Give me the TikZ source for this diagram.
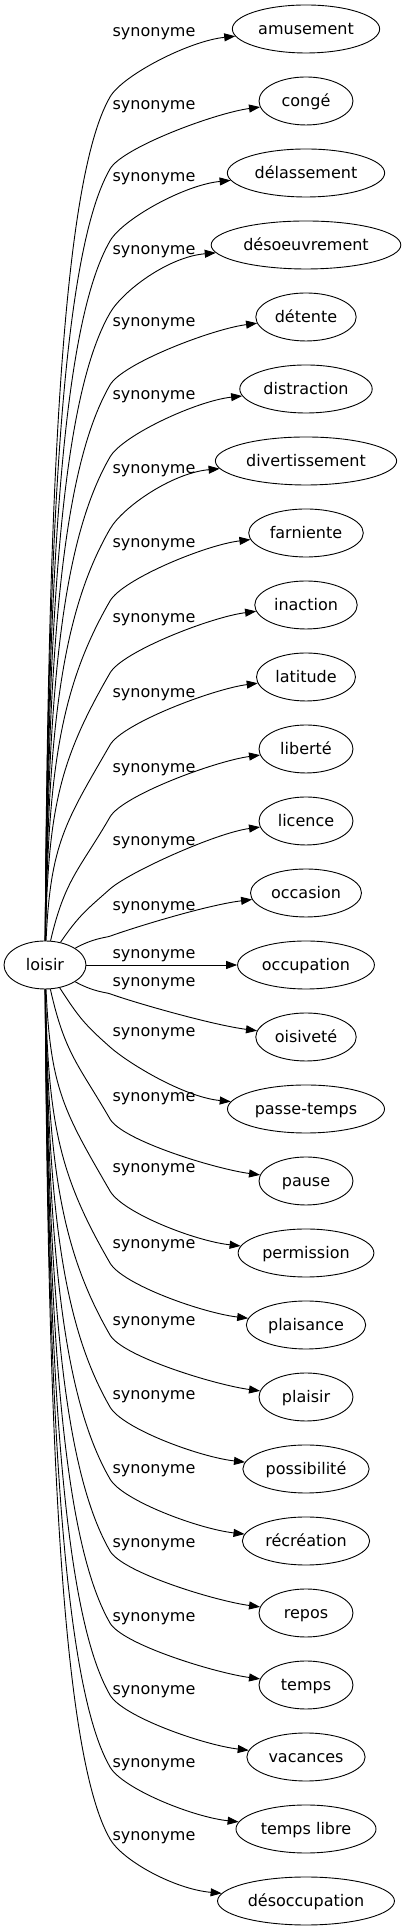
\documentclass[tikz,border=0pt]{standalone}
\usepackage{fontspec}
\setmainfont{DejaVu Sans}
\usepackage{tikz}
\usetikzlibrary{positioning,shapes.geometric,arrows.meta}
\tikzstyle{word} = [ellipse, draw, minimum width=94pt, minimum height=48pt, inner xsep=4.3pt, inner ysep=0pt, text height=12pt, text depth=0pt]
\tikzstyle{syn} = [-{Triangle[length=11pt,width=8pt]}]
\tikzstyle{lbl} = [anchor=base, inner sep=0pt]

\begin{document}
\begin{tikzpicture}[x=1pt, y=1pt, node distance=72pt, line width=0.9pt, font=\fontsize{16}{19}\selectfont]
            \useasboundingbox (0,0) rectangle (405,1931);
            \node (loisir) at (45,966) [word, minimum width=82pt] {loisir};
            \node (amusement) at (306,1902) [word] {amusement};
            \node (conge) [word, below of=amusement] {congé};
            \node (delassement) [word, below of=conge] {délassement};
            \node (desoeuvrement) [word, below of=delassement] {désoeuvrement};
            \node (detente) [word, below of=desoeuvrement] {détente};
            \node (distraction) [word, below of=detente] {distraction};
            \node (divertissement) [word, below of=distraction] {divertissement};
            \node (farniente) [word, below of=divertissement] {farniente};
            \node (inaction) [word, below of=farniente] {inaction};
            \node (latitude) [word, below of=inaction] {latitude};
            \node (liberte) [word, below of=latitude] {liberté};
            \node (licence) [word, below of=liberte] {licence};
            \node (occasion) [word, below of=licence] {occasion};
            \node (occupation) [word, below of=occasion] {occupation};
            \node (oisivete) [word, below of=occupation] {oisiveté};
            \node (passetemps) [word, below of=oisivete] {passe-temps};
            \node (pause) [word, below of=passetemps] {pause};
            \node (permission) [word, below of=pause] {permission};
            \node (plaisance) [word, below of=permission] {plaisance};
            \node (plaisir) [word, below of=plaisance] {plaisir};
            \node (possibilite) [word, below of=plaisir] {possibilité};
            \node (recreation) [word, below of=possibilite] {récréation};
            \node (repos) [word, below of=recreation] {repos};
            \node (temps) [word, below of=repos] {temps};
            \node (vacances) [word, below of=temps] {vacances};
            \node (tempslibre) [word, below of=vacances] {temps libre};
            \node (desoccupation) [word, below of=tempslibre] {désoccupation};
            % the one straight edge
            \draw[syn] (loisir) -- (occupation);
            \node[lbl] at (154,972) {synonyme};
            % curved edges, upper ones rise and lower ones fall from loisir
            \foreach \n/\i/\ly in {amusement/0/32, conge/1/105, delassement/2/177, desoeuvrement/3/250,
                detente/4/322, distraction/5/395, divertissement/6/469, farniente/7/543, inaction/8/618,
                latitude/9/693, liberte/10/768, licence/11/841, occasion/12/906,
                oisivete/14/982, passetemps/15/1032, pause/16/1097, permission/17/1168, plaisance/18/1244,
                plaisir/19/1321, possibilite/20/1395, recreation/21/1469, repos/22/1543, temps/23/1617,
                vacances/24/1690, tempslibre/25/1763, desoccupation/26/1836}{
                \pgfmathsetmacro\yT{1902-72*\i}
                \pgfmathsetmacro\s{\yT>966 ? 1 : -1}
                \pgfmathsetmacro\D{abs(\yT-966)}
                \pgfmathsetmacro\dy{min(65+3*(\s), 0.6*\D)}
                \pgfmathsetmacro\Py{\yT-(\s)*\dy}
                \pgfmathsetmacro\Sy{966+24*(\s)}
                \pgfmathsetmacro\H{abs(\Py-\Sy)}
                \pgfmathsetmacro\th{min(60,20+0.3*(\D-72))}
                \pgfmathsetmacro\cx{48+60*(1-min(1,\D/300))}
                \pgfmathsetmacro\Lone{max(0.5*\H,3)}
                \pgfmathsetmacro\Ltwo{min(100,0.4*\H+10*min(1,\H/20))}
                \draw[syn] (loisir) .. controls (\cx,{\Sy+(\s)*\Lone}) and ({110-\Ltwo*cos(\th)},{\Py-(\s)*\Ltwo*sin(\th)}) .. (110,\Py)
                    .. controls ({110+25*cos(\th)},{\Py+(\s)*25*sin(\th)}) and ([shift={(-43,{-12*(\s)})}]\n.west) .. (\n);
                \node[lbl] at (154,{1926-\ly}) {synonyme};
            }
\end{tikzpicture}
\end{document}
